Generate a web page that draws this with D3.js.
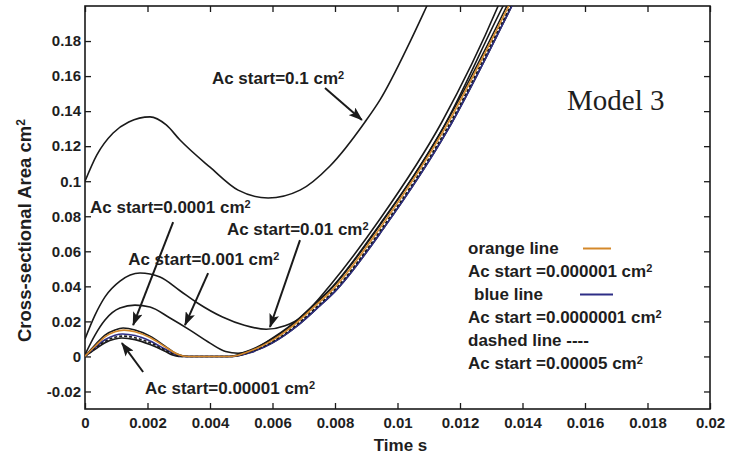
<!DOCTYPE html>
<html>
<head>
<meta charset="utf-8">
<script src="https://cdn.jsdelivr.net/npm/d3@7"></script>
<style>
  html, body { margin: 0; padding: 0; background: #fff; }
  svg { display: block; }
  text { font-family: "Liberation Sans", Arial, sans-serif; font-weight: bold; fill: #1e1e1e; }
</style>
</head>
<body>
<svg id="chart" width="731" height="456"></svg>
<script>
// ---- axis ticks ----
const timeTicks = [0, 0.002, 0.004, 0.006, 0.008, 0.01, 0.012, 0.014, 0.016, 0.018, 0.02];
const timeTickLabels = ["0", "0.002", "0.004", "0.006", "0.008", "0.01", "0.012", "0.014", "0.016", "0.018", "0.02"];
const areaTicks = [-0.02, 0, 0.02, 0.04, 0.06, 0.08, 0.1, 0.12, 0.14, 0.16, 0.18];
const areaTickLabels = ["-0.02", "0", "0.02", "0.04", "0.06", "0.08", "0.1", "0.12", "0.14", "0.16", "0.18"];

// ---- simulated runs: time (s) and cross-sectional area (cm^2) ----
const time_1e1 = [0, 0.00038, 0.0009, 0.0014, 0.00208, 0.0026, 0.00304, 0.004, 0.0049, 0.00586, 0.00688, 0.00784, 0.00896, 0.00944, 0.0104, 0.01094, 0.0112];
const area_1e1 = [0.1, 0.115, 0.1275, 0.1338, 0.1367, 0.1321, 0.1235, 0.108, 0.0949, 0.0904, 0.0949, 0.1087, 0.1338, 0.1464, 0.1795, 0.2, 0.21];

const time_1e2 = [0, 0.00032, 0.00064, 0.00112, 0.00176, 0.0024, 0.00304, 0.0036, 0.0044, 0.0051, 0.0058, 0.0064, 0.0069, 0.0073, 0.00784, 0.00944, 0.01142, 0.01322, 0.0135];
const area_1e2 = [0.01, 0.0236, 0.034, 0.043, 0.0476, 0.0453, 0.0375, 0.0305, 0.0225, 0.0178, 0.0155, 0.0175, 0.0222, 0.0292, 0.0405, 0.0784, 0.1338, 0.2, 0.212];

const time_1e3 = [0, 0.00032, 0.00064, 0.00112, 0.0016, 0.00208, 0.00272, 0.00336, 0.004, 0.0045, 0.0049, 0.0053, 0.0058, 0.00666, 0.0073, 0.00784, 0.00944, 0.01144, 0.01338, 0.0137];
const area_1e3 = [0.001, 0.0122, 0.0208, 0.0276, 0.0293, 0.0282, 0.0219, 0.015, 0.0076, 0.0028, 0.0018, 0.0032, 0.0082, 0.0188, 0.0292, 0.0383, 0.0755, 0.1298, 0.2, 0.211];

const time_1e4 = [0, 0.00032, 0.00064, 0.00096, 0.00122, 0.0016, 0.00208, 0.00256, 0.00294, 0.0033, 0.0046, 0.00512, 0.00582, 0.006656, 0.0073, 0.00784, 0.00944, 0.011424, 0.0135, 0.0138];
const area_1e4 = [0.0001, 0.0065, 0.0122, 0.0151, 0.0162, 0.0151, 0.0116, 0.0059, 0.0014, 0, 0, 0.0025, 0.0082, 0.0185, 0.0288, 0.0379, 0.075, 0.1292, 0.2, 0.211];

const time_1e5 = [0, 0.00032, 0.00064, 0.00096, 0.00118, 0.0016, 0.00208, 0.00256, 0.0028, 0.003, 0.0047, 0.0053, 0.006, 0.00683, 0.00747, 0.00801, 0.00961, 0.01159, 0.01366, 0.014];
const area_1e5 = [0, 0.004, 0.0078, 0.0099, 0.0105, 0.0096, 0.0068, 0.003, 0.0008, 0, 0, 0.0023, 0.0078, 0.018, 0.0282, 0.0373, 0.0745, 0.1287, 0.2, 0.212];

const time_5e5 = [0, 0.00032, 0.00064, 0.00096, 0.0012, 0.0016, 0.00208, 0.00256, 0.0029, 0.0031, 0.00468, 0.00525, 0.00595, 0.00678, 0.00742, 0.00796, 0.00956, 0.01154, 0.01362, 0.014];
const area_5e5 = [0.0001, 0.0045, 0.0086, 0.011, 0.0116, 0.0107, 0.0078, 0.0036, 0.0008, 0, 0, 0.0024, 0.0079, 0.0182, 0.0284, 0.0375, 0.0746, 0.1288, 0.2, 0.213];

const time_1e6 = [0, 0.00032, 0.00064, 0.00096, 0.00125, 0.0016, 0.00208, 0.00256, 0.00296, 0.0033, 0.00465, 0.00518, 0.00588, 0.00671, 0.00735, 0.0079, 0.0095, 0.01148, 0.01356, 0.0139];
const area_1e6 = [0.0001, 0.0058, 0.0112, 0.0141, 0.015, 0.0141, 0.0108, 0.0055, 0.0013, 0, 0, 0.0024, 0.008, 0.0183, 0.0286, 0.0377, 0.0748, 0.129, 0.2, 0.212];

const time_1e7 = [0, 0.00032, 0.00064, 0.00096, 0.0012, 0.0016, 0.00208, 0.00256, 0.0029, 0.0032, 0.0047, 0.0053, 0.006, 0.00683, 0.00747, 0.00801, 0.00961, 0.01159, 0.01366, 0.014];
const area_1e7 = [0, 0.005, 0.0095, 0.0121, 0.0128, 0.0119, 0.0088, 0.0042, 0.001, 0, 0, 0.0023, 0.0078, 0.018, 0.0282, 0.0373, 0.0745, 0.1287, 0.2, 0.212];

const black = "#1a1a1a";
const orange = "#d4882a";
const navy = "#2e2e86";

const runs = [
  { t: time_1e1, a: area_1e1, color: black },
  { t: time_1e2, a: area_1e2, color: black },
  { t: time_1e3, a: area_1e3, color: black },
  { t: time_1e4, a: area_1e4, color: black },
  { t: time_1e5, a: area_1e5, color: black },
  { t: time_1e7, a: area_1e7, color: navy },
  { t: time_5e5, a: area_5e5, color: black, dash: "3,2" },
  { t: time_1e6, a: area_1e6, color: orange }
];

// annotation labels with arrows, positioned in data units
const notes = [
  { text: "Ac start=0.1 cm", at: [0.00406, 0.1555], from: [0.00768, 0.1532], to: [0.00886, 0.135] },
  { text: "Ac start=0.0001 cm", at: [0.00016, 0.0818], from: [0.00282, 0.0767], to: [0.00154, 0.0179] },
  { text: "Ac start=0.01 cm", at: [0.00454, 0.0693], from: [0.00688, 0.0664], to: [0.00592, 0.0168] },
  { text: "Ac start=0.001 cm", at: [0.00138, 0.0522], from: [0.00394, 0.0476], to: [0.0032, 0.0179] },
  { text: "Ac start=0.00001 cm", at: [0.00192, -0.0214], from: [0.00186, -0.0089], to: [0.00118, 0.0076] }
];

const legendRows = [
  { text: "orange line", swatch: orange, swatchX: [583, 611] },
  { text: "Ac start =0.000001 cm", sup: true },
  { text: "blue line", swatch: navy, indent: 6, swatchX: [580, 613] },
  { text: "Ac start =0.0000001 cm", sup: true },
  { text: "dashed line ----" },
  { text: "Ac start =0.00005 cm", sup: true }
];

// ---- layout ----
const plot = { left: 85, right: 710, top: 6, bottom: 409 };
const svg = d3.select("#chart");

const x = d3.scaleLinear().domain([0, 0.02]).range([plot.left, plot.right]);
const y = d3.scaleLinear().domain([-0.03, 0.2]).range([plot.bottom, plot.top]);

svg.append("rect").attr("width", 731).attr("height", 456).attr("fill", "#fff");

svg.append("defs").append("clipPath").attr("id", "plotClip")
  .append("rect")
  .attr("x", plot.left).attr("y", plot.top)
  .attr("width", plot.right - plot.left).attr("height", plot.bottom - plot.top);

const marker = svg.select("defs").append("marker")
  .attr("id", "arrowHead")
  .attr("viewBox", "0 0 14 10")
  .attr("refX", 13).attr("refY", 5)
  .attr("markerWidth", 14).attr("markerHeight", 10)
  .attr("markerUnits", "userSpaceOnUse")
  .attr("orient", "auto");
marker.append("path").attr("d", "M0,0 L14,5 L0,10 L3,5 Z").attr("fill", black);

// ---- axes (ticks pointing inward on all four sides) ----
const tickLen = 6;
const axisStyle = g => {
  g.select(".domain").remove();
  g.selectAll(".tick line").attr("stroke", black).attr("stroke-width", 1.3);
  g.selectAll(".tick text").style("font-size", "15px").attr("fill", "#1e1e1e");
};

svg.append("g").attr("transform", `translate(${plot.left},0)`)
  .call(d3.axisLeft(y).tickValues(areaTicks).tickFormat((d, i) => areaTickLabels[i])
    .tickSizeInner(-tickLen).tickSizeOuter(0).tickPadding(4))
  .call(axisStyle);

svg.append("g").attr("transform", `translate(${plot.right},0)`)
  .call(d3.axisRight(y).tickValues(areaTicks).tickFormat("")
    .tickSizeInner(-tickLen).tickSizeOuter(0))
  .call(axisStyle);

svg.append("g").attr("transform", `translate(0,${plot.bottom})`)
  .call(d3.axisBottom(x).tickValues(timeTicks).tickFormat((d, i) => timeTickLabels[i])
    .tickSizeInner(-tickLen).tickSizeOuter(0).tickPadding(8))
  .call(axisStyle);

svg.append("g").attr("transform", `translate(0,${plot.top})`)
  .call(d3.axisTop(x).tickValues(timeTicks).tickFormat("")
    .tickSizeInner(-tickLen).tickSizeOuter(0))
  .call(axisStyle);

svg.append("rect")
  .attr("x", plot.left).attr("y", plot.top)
  .attr("width", plot.right - plot.left).attr("height", plot.bottom - plot.top)
  .attr("fill", "none").attr("stroke", black).attr("stroke-width", 1.6);

// ---- axis titles ----
svg.append("text")
  .attr("x", (plot.left + plot.right) / 2 + 3).attr("y", 451)
  .attr("text-anchor", "middle").style("font-size", "17px")
  .text("Time s");

const yTitle = svg.append("text")
  .attr("transform", "translate(31,342) rotate(-90)")
  .attr("text-anchor", "start").style("font-size", "18.5px");
yTitle.append("tspan").text("Cross-sectional Area cm");
yTitle.append("tspan").attr("dy", "-0.5em").style("font-size", "12px").text("2");

// ---- curves ----
const line = d3.line()
  .x(d => x(d[0])).y(d => y(d[1]))
  .curve(d3.curveMonotoneX);

svg.append("g").attr("clip-path", "url(#plotClip)")
  .selectAll("path")
  .data(runs)
  .join("path")
  .attr("d", r => line(d3.zip(r.t, r.a)))
  .attr("fill", "none")
  .attr("stroke", r => r.color)
  .attr("stroke-width", 1.6)
  .attr("stroke-dasharray", r => r.dash || null)
  .attr("stroke-linejoin", "round");

// ---- annotations ----
const supText = (sel, base, size) => {
  sel.append("tspan").text(base);
  sel.append("tspan").attr("dy", "-0.45em").style("font-size", size).text("2");
};

const noteG = svg.append("g");
notes.forEach(n => {
  noteG.append("line")
    .attr("x1", x(n.from[0])).attr("y1", y(n.from[1]))
    .attr("x2", x(n.to[0])).attr("y2", y(n.to[1]))
    .attr("stroke", black).attr("stroke-width", 2)
    .attr("marker-end", "url(#arrowHead)");
  const t = noteG.append("text")
    .attr("x", x(n.at[0])).attr("y", y(n.at[1]))
    .style("font-size", "17px");
  supText(t, n.text, "11px");
});

// ---- legend ----
const legend = { x: 468, y0: 253.5, step: 23 };
legendRows.forEach((r, i) => {
  const yy = legend.y0 + i * legend.step;
  const t = svg.append("text")
    .attr("x", legend.x + (r.indent || 0)).attr("y", yy)
    .style("font-size", "17px");
  if (r.sup) supText(t, r.text, "11px");
  else t.text(r.text);
  if (r.swatch) {
    svg.append("line")
      .attr("x1", r.swatchX[0]).attr("x2", r.swatchX[1])
      .attr("y1", yy - 5).attr("y2", yy - 5)
      .attr("stroke", r.swatch).attr("stroke-width", 2);
  }
});

// ---- panel title ----
svg.append("text")
  .attr("x", 567).attr("y", 110)
  .style("font-family", "'Liberation Serif', 'Times New Roman', serif")
  .style("font-weight", "normal")
  .style("font-size", "29px")
  .text("Model 3");
</script>
</body>
</html>
